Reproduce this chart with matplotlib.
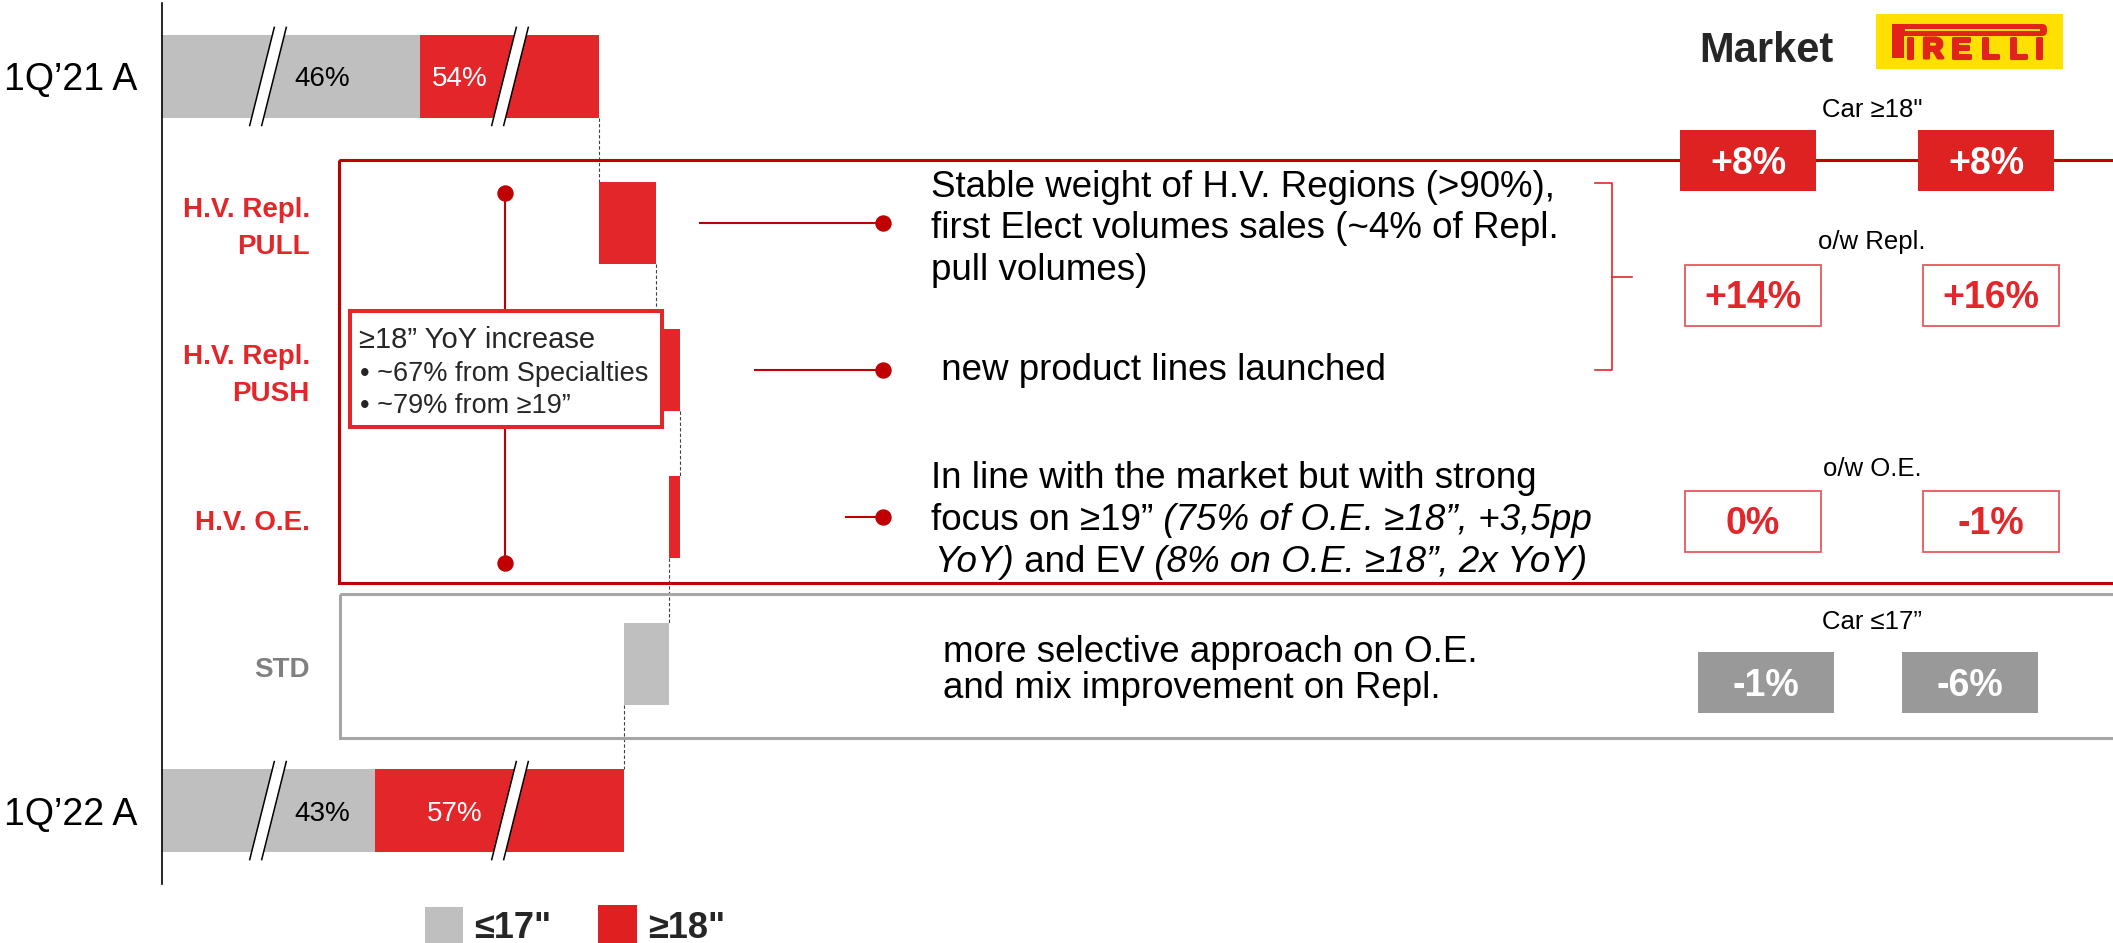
import matplotlib.pyplot as plt
from matplotlib.patches import Rectangle, Polygon, FancyBboxPatch
import matplotlib.patheffects as pe
import numpy as np

plt.rcParams['font.family'] = ['Liberation Sans', 'DejaVu Sans']

W, H = 2113, 943

# ---- data ----
periods = ["1Q’21 A", "1Q’22 A"]
le17 = [258, 213]            # bar length of <=17" part (axis is broken)
ge18 = [179, 249]            # bar length of >=18" part
le17_pct = ["46%", "43%"]
ge18_pct = ["54%", "57%"]

steps = ["H.V. Repl.\nPULL", "H.V. Repl.\nPUSH", "H.V. O.E.", "STD"]
step_delta = [57, 24, -11, -45]
step_kind = ["ge18", "ge18", "ge18", "le17"]

panel_heads = ['Car ≥18"', "o/w Repl.", "o/w O.E.", "Car ≤17”"]
market_vals = ["+8%", "+14%", "0%", "-1%"]
pirelli_vals = ["+8%", "+16%", "-1%", "-6%"]

box_lines = ["≥18” YoY increase", "• ~67% from Specialties", "• ~79% from ≥19”"]

notes_pull = ["Stable weight of H.V. Regions (>90%),",
              "first Elect volumes sales (~4% of Repl.",
              "pull volumes)"]
notes_push = [" new product lines launched"]
notes_oe = [[("In line with the market but with strong", "normal")],
            [("focus on ≥19”", "normal"), (" (75% of O.E. ≥18”, +3,5pp", "italic")],
            [("YoY)", "italic"), (" and EV", "normal"), (" (8% on O.E. ≥18”, 2x YoY)", "italic")]]
notes_std = ["more selective approach on O.E.", "and mix improvement on Repl."]

legend_labels = ['≤17"', '≥18"']

# ---- style ----
RED = '#E3262A'
GRAY = '#BFBFBF'
DARKRED = '#C00000'
TXT = '#262626'
LOGO_RED = '#E2231A'

fig = plt.figure(figsize=(W / 100, H / 100), dpi=100)

# main waterfall axes
ax = fig.add_axes([162 / W, 1 - 884 / H, (W - 162) / W, 881 / H])
ax.set_xlim(0, W - 162)
ax.set_ylim(5.5, -0.5)
for s in ['top', 'right', 'bottom']:
    ax.spines[s].set_visible(False)
ax.spines['left'].set_linewidth(1.2)
ax.set_xticks([])
ax.set_yticks([])
ax.patch.set_alpha(0)

bh = 0.56
ax.barh([0, 5], le17, height=bh, color=GRAY, zorder=2)
ax.barh([0, 5], ge18, left=le17, height=bh, color=RED, zorder=2)

total = le17[0] + ge18[0]
ends = [total]
for i, d in enumerate(step_delta):
    c = RED if step_kind[i] == "ge18" else GRAY
    ax.barh(i + 1, abs(d), left=min(total, total + d), height=bh, color=c, zorder=2)
    total += d
    ends.append(total)

for i, x in enumerate(ends):
    ax.plot([x, x], [i + bh / 2, i + 1 - bh / 2], color='#404040', lw=0.8,
            ls=(0, (3, 2)), zorder=1)

# axis-break marks on the two total bars
brk_x = [106, 348]
gap, slant, half = 6, 12.3, 0.334
for row in [0, 5]:
    for cx in brk_x:
        pts = [(cx - gap - slant, row + half), (cx - gap + slant, row - half),
               (cx + gap + slant, row - half), (cx + gap - slant, row + half)]
        ax.add_patch(Polygon(pts, closed=True, facecolor='white', edgecolor='none', zorder=3))
        ax.plot([pts[0][0], pts[1][0]], [pts[0][1], pts[1][1]], color='black', lw=1.1, zorder=4)
        ax.plot([pts[3][0], pts[2][0]], [pts[3][1], pts[2][1]], color='black', lw=1.1, zorder=4)

# overlay in pixel coordinates for texts and frames
ov = fig.add_axes([0, 0, 1, 1])
ov.set_xlim(0, W)
ov.set_ylim(H, 0)
ov.axis('off')


def ypx(row):
    return ov.transData.inverted().transform(ax.transData.transform((0, row)))[1]


def xpx(v):
    return ov.transData.inverted().transform(ax.transData.transform((v, 0)))[0]


# period labels and % labels
pct_x = [[160, 298], [160, 293]]
for k, r in enumerate([0, 5]):
    yc = ypx(r)
    ov.text(137, yc + 14, periods[k], ha='right', va='baseline', fontsize=27, color='black')
    ov.text(xpx(pct_x[k][0]), yc + 10, le17_pct[k], ha='center', va='baseline',
            fontsize=20, color='black')
    ov.text(xpx(pct_x[k][1]), yc + 10, ge18_pct[k], ha='center', va='baseline',
            fontsize=20, color='white')

# step labels
for i, lab in enumerate(steps):
    yc = ypx(i + 1)
    parts = lab.split('\n')
    offs = [-6, 31] if len(parts) == 2 else [13]
    col = RED if step_kind[i] == "ge18" else '#808080'
    for p, o in zip(parts, offs):
        ov.text(310, yc + o, p, ha='right', va='baseline', fontsize=20,
                fontweight='bold', color=col)

# frames
ov.add_patch(Rectangle((339, 160), W + 50 - 339, 583 - 160, fill=False,
                       edgecolor=DARKRED, lw=2.2, zorder=2))
ov.add_patch(Rectangle((340, 594), W + 50 - 340, 738 - 594, fill=False,
                       edgecolor='#A6A6A6', lw=2.2, zorder=2))

# vertical line with dots and the info box
ov.plot([505, 505], [193, 563], color=DARKRED, lw=1.5, zorder=3)
ov.plot([505, 505], [193, 563], 'o', color=DARKRED, ms=10.8, zorder=3)
ov.add_patch(Rectangle((350, 311), 312, 116, facecolor='white', edgecolor=RED,
                       lw=2.9, zorder=5))
ov.text(359, 348, box_lines[0], fontsize=21, color=TXT, va='baseline', zorder=6)
ov.text(360, 381, box_lines[1], fontsize=19.5, color=TXT, va='baseline', zorder=6)
ov.text(360, 413, box_lines[2], fontsize=19.5, color=TXT, va='baseline', zorder=6)

# connectors to notes
conn_start = [700, 755, 846]
for i, x0 in enumerate(conn_start):
    yc = ypx(i + 1)
    ov.plot([x0, 883], [yc, yc], color=DARKRED, lw=1.5, zorder=3)
    ov.plot([883], [yc], 'o', color=DARKRED, ms=10.8, zorder=3)

# notes
FS = 26.5
for y, t in zip([197, 238, 280], notes_pull):
    ov.text(931, y, t, fontsize=FS, va='baseline', color='black')
ov.text(931, 380, notes_push[0], fontsize=FS, va='baseline', color='black')
for (x, y), runs in zip([(931, 488), (931, 530), (934, 572)], notes_oe):
    prev = ov.text(x, y, runs[0][0], fontsize=FS, style=runs[0][1], va='baseline',
                   color='black')
    for txt, st in runs[1:]:
        prev = ov.annotate(txt, xy=(1, 0), xycoords=prev, fontsize=FS, style=st,
                           va='bottom', ha='left', color='black')
for y, t in zip([662, 698], notes_std):
    ov.text(943, y, t, fontsize=FS, va='baseline', color='black')

# bracket
ov.plot([1595, 1612, 1612, 1595], [183, 183, 370, 370], color=RED, lw=1.2)
ov.plot([1612, 1632], [277, 277], color=RED, lw=1.2)

# right panel
ov.text(1766, 62, "Market", fontsize=30, fontweight='bold', color=TXT,
        ha='center', va='baseline')
head_y = [117, 249, 476, 629]
row_cy = [160, 295, 521, 682]
market_cx = [1748, 1753, 1753, 1766]
pirelli_cx = [1986, 1991, 1991, 1970]
bw, bhh = 136, 61
for r in range(4):
    ov.text(1872, head_y[r], panel_heads[r], fontsize=18.5, color='black',
            ha='center', va='baseline')
    for cx, val in [(market_cx[r], market_vals[r]), (pirelli_cx[r], pirelli_vals[r])]:
        if r == 0:
            fc, ec, tc = '#DE2121', 'none', 'white'
        elif r == 3:
            fc, ec, tc = '#999999', 'none', 'white'
        else:
            fc, ec, tc = 'white', '#E8585C', RED
        ov.add_patch(Rectangle((cx - bw / 2, row_cy[r] - bhh / 2), bw, bhh,
                               facecolor=fc, edgecolor=ec, lw=1.3, zorder=4))
        ov.text(cx, row_cy[r] + 13.5, val, fontsize=27, fontweight='bold', color=tc,
                ha='center', va='baseline', zorder=5)

# Pirelli logo
ov.add_patch(Rectangle((1876, 14), 187, 55, facecolor='#FFE000', edgecolor='none'))
ov.add_patch(Rectangle((1892, 24), 12, 34, facecolor=LOGO_RED, edgecolor='none'))
ov.add_patch(FancyBboxPatch((1892, 24), 155, 12,
                            boxstyle="round,pad=0,rounding_size=5",
                            facecolor=LOGO_RED, edgecolor='none'))
ov.add_patch(Rectangle((1905, 28.5), 135, 2.5, facecolor='#FFE000', edgecolor='none'))
for ch, lx in zip("IRELLI", [1910, 1933, 1961, 1990, 2018, 2039]):
    ov.text(lx, 58, ch, fontsize=21, fontweight='bold', color=LOGO_RED,
            ha='center', va='baseline',
            path_effects=[pe.withStroke(linewidth=2.2, foreground=LOGO_RED)])

# legend
ov.add_patch(Rectangle((424.5, 907), 38, 45, facecolor=GRAY, edgecolor='none'))
ov.add_patch(Rectangle((598, 905), 38.6, 47, facecolor='#E02020', edgecolor='none'))
ov.text(474, 938, legend_labels[0], fontsize=26, fontweight='bold', color=TXT, va='baseline')
ov.text(648, 938, legend_labels[1], fontsize=26, fontweight='bold', color=TXT, va='baseline')

fig.savefig('out.png', dpi=100)
